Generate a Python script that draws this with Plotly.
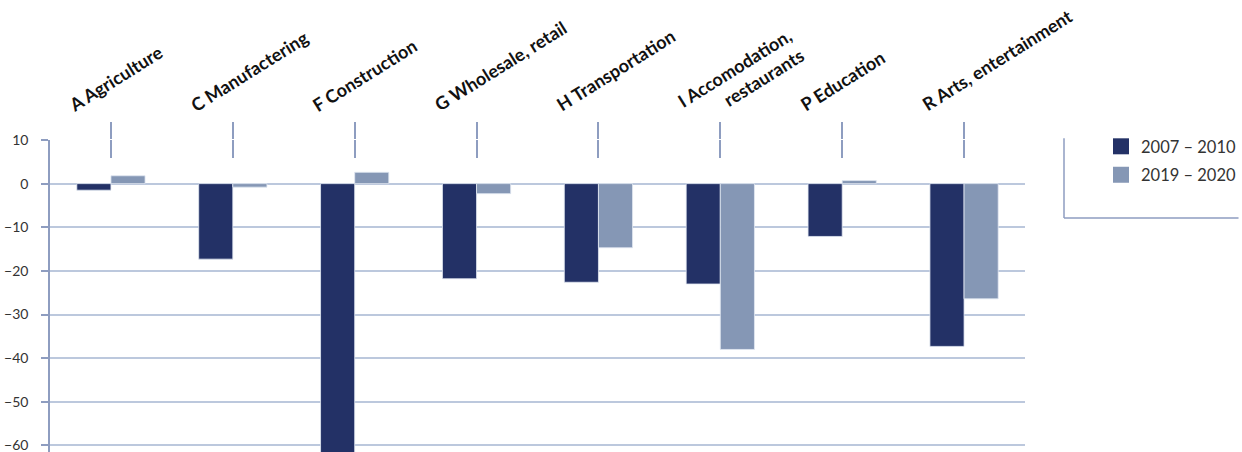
import plotly.graph_objects as go

categories = ["A Agriculture", "C Manufactering", "F Construction", "G Wholesale, retail",
              "H Transportation", "I Accomodation, restaurants", "P Education",
              "R Arts, entertainment"]
category_labels = ["A Agriculture", "C Manufactering", "F Construction", "G Wholesale, retail",
                   "H Transportation", "I Accomodation,<br>restaurants", "P Education",
                   "R Arts, entertainment"]
series_names = ["2007 – 2010", "2019 – 2020"]
values_2007_2010 = [-1.5, -17.3, -63.0, -21.8, -22.6, -23.0, -12.1, -37.3]
values_2019_2020 = [1.8, -0.8, 2.6, -2.3, -14.7, -38.0, 0.7, -26.4]
y_ticks = [10, 0, -10, -20, -30, -40, -50, -60]

DARK = "#233166"
LIGHT = "#8597B5"
AXIS = "#8E9DC0"
GRID = "#BCC8DD"
TEXT = "#333333"

fig = go.Figure()
for name, vals, col in [(series_names[0], values_2007_2010, DARK),
                        (series_names[1], values_2019_2020, LIGHT)]:
    fig.add_trace(go.Bar(x=categories, y=vals, name=name, marker_color=col,
                         marker_line=dict(color="#E2E8F2", width=0.8),
                         showlegend=False, hoverinfo="skip"))
for i, (name, col) in enumerate([(series_names[0], DARK), (series_names[1], LIGHT)]):
    fig.add_trace(go.Scatter(x=[None], y=[None], mode="markers", name=name,
                             legendgroup=f"g{i}", xaxis="x2",
                             marker=dict(symbol="square", size=16, color=col)))

annotations = []
for cat, lab in zip(categories, category_labels):
    nlines = lab.count("<br>") + 1
    annotations.append(dict(
        x=cat, xref="x", y=1.07, yref="paper", text=lab, showarrow=False,
        textangle=-32, xanchor="left", yanchor="bottom", align="right",
        xshift=-49, yshift=-16 * (nlines - 1),
        font=dict(family="Lato", size=18, color="#111111", weight="bold")))

shapes = [
    dict(type="line", xref="paper", yref="paper", x0=1.040, x1=1.040, y0=1.006, y1=0.75,
         line=dict(color=AXIS, width=1.5)),
    dict(type="line", xref="paper", yref="paper", x0=1.040, x1=1.219, y0=0.75, y1=0.75,
         line=dict(color=AXIS, width=1.5)),
]

fig.update_layout(
    width=1242, height=452,
    margin=dict(l=50, r=216, t=140, b=0, pad=0),
    plot_bgcolor="white", paper_bgcolor="white",
    barmode="group", bargap=0.44, bargroupgap=0,
    font=dict(family="Lato", color=TEXT),
    xaxis=dict(type="category", categoryarray=categories, categoryorder="array",
               range=[-0.5, 7.5], side="top", ticks="outside", ticklen=17,
               tickcolor=AXIS, tickwidth=1.5, showticklabels=False,
               showgrid=False, showline=False, zeroline=False),
    xaxis2=dict(overlaying="x", anchor="y", side="top", range=[-0.5, 7.5],
                tickmode="array", tickvals=list(range(len(categories))),
                ticks="inside", ticklen=18, tickcolor=AXIS, tickwidth=1.5,
                showticklabels=False, showgrid=False, showline=False, zeroline=False),
    yaxis=dict(range=[-61.5, 10], tickmode="array", tickvals=y_ticks,
               ticks="outside", ticklen=7, tickcolor=AXIS, tickwidth=1.5,
               showline=True, linecolor=AXIS, linewidth=1.5,
               showgrid=True, gridcolor=GRID, gridwidth=1.5,
               zeroline=True, zerolinecolor=GRID, zerolinewidth=1.5,
               ticklabelstandoff=10, ticklabeloverflow="allow",
               tickfont=dict(family="Lato", size=14, color=TEXT)),
    legend=dict(x=1.078, y=1.035, xanchor="left", yanchor="top",
                font=dict(family="Lato", size=16.5, color=TEXT),
                bgcolor="rgba(0,0,0,0)", tracegroupgap=4),
    annotations=annotations, shapes=shapes,
    hovermode=False,
)

fig.write_html("out.html")
